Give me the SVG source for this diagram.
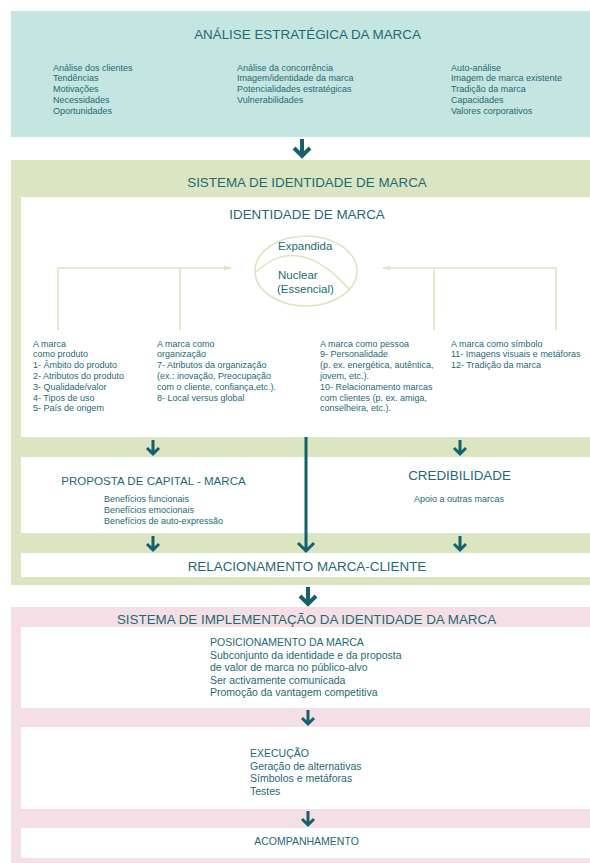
<svg xmlns="http://www.w3.org/2000/svg" width="590" height="863" viewBox="0 0 590 863">
<style>
text{font-family:"Liberation Sans",Arial,sans-serif;fill:#1e6a73}
.h{font-size:13.4px}
.s{font-size:9px}
.m{font-size:10.5px}
.e{font-size:11.5px}
.c{text-anchor:middle}
.lc{fill:none;stroke:#dbe5c2;stroke-width:1.6}
.ar{fill:none;stroke:#14606b;stroke-width:3}
.arb{fill:none;stroke:#14606b;stroke-width:4}
</style>
<defs>
<marker id="lg" viewBox="0 0 10 10" refX="9" refY="5" markerWidth="8" markerHeight="8" orient="auto" markerUnits="userSpaceOnUse">
<path d="M0,2 L10,5 L0,8 z" fill="#dbe5c2"/>
</marker>
</defs>
<rect width="590" height="863" fill="#ffffff"/>

<g id="analise">
<rect x="11" y="11" width="579" height="126" fill="#c5e5e0"/>
<text class="h c" x="307.5" y="38.5">ANÁLISE ESTRATÉGICA DA MARCA</text>
<text class="s" x="53" y="70.6">Análise dos clientes</text>
<text class="s" x="53" y="81.4">Tendências</text>
<text class="s" x="53" y="92.2">Motivações</text>
<text class="s" x="53" y="103">Necessidades</text>
<text class="s" x="53" y="113.8">Oportunidades</text>
<text class="s" x="237" y="70.6">Análise da concorrência</text>
<text class="s" x="237" y="81.4">Imagem/identidade da marca</text>
<text class="s" x="237" y="92.2">Potencialidades estratégicas</text>
<text class="s" x="237" y="103">Vulnerabilidades</text>
<text class="s" x="451" y="70.6">Auto-análise</text>
<text class="s" x="451" y="81.4">Imagem de marca existente</text>
<text class="s" x="451" y="92.2">Tradição da marca</text>
<text class="s" x="451" y="103">Capacidades</text>
<text class="s" x="451" y="113.8">Valores corporativos</text>
</g>

<g id="sistema-identidade">
<rect x="11" y="160" width="579" height="425" fill="#dbe5c2"/>
<rect x="21" y="197" width="569" height="240" fill="#ffffff"/>
<rect x="21" y="457" width="569" height="76" fill="#ffffff"/>
<rect x="21" y="553" width="569" height="24" fill="#ffffff"/>
<text class="h c" x="307" y="186.5">SISTEMA DE IDENTIDADE DE MARCA</text>
</g>

<g id="identidade">
<text class="h c" x="307" y="218.8">IDENTIDADE DE MARCA</text>
<ellipse cx="306" cy="271" rx="51" ry="35" fill="none" stroke="#dbe5c2" stroke-width="1.6"/>
<path d="M256,272 Q298,232 349,289" fill="none" stroke="#dbe5c2" stroke-width="1.6"/>
<text class="e" x="278" y="250">Expandida</text>
<text class="e" x="278" y="279">Nuclear</text>
<text class="e" x="277" y="293">(Essencial)</text>
</g>

<g id="produto">
<text class="s" x="33" y="346.5">A marca</text>
<text class="s" x="33" y="357.3">como produto</text>
<text class="s" x="33" y="368.1">1- Âmbito do produto</text>
<text class="s" x="33" y="378.9">2- Atributos do produto</text>
<text class="s" x="33" y="389.7">3- Qualidade/valor</text>
<text class="s" x="33" y="400.5">4- Tipos de uso</text>
<text class="s" x="33" y="411.3">5- País de origem</text>
</g>
<g id="organizacao">
<text class="s" x="157" y="346.5">A marca como</text>
<text class="s" x="157" y="357.3">organização</text>
<text class="s" x="157" y="368.1">7- Atributos da organização</text>
<text class="s" x="157" y="378.9">(ex.: inovação, Preocupação</text>
<text class="s" x="157" y="389.7">com o cliente, confiança,etc.).</text>
<text class="s" x="157" y="400.5">8- Local versus global</text>
</g>
<g id="pessoa">
<text class="s" x="320" y="346.5">A marca como pessoa</text>
<text class="s" x="320" y="357.3">9- Personalidade</text>
<text class="s" x="320" y="368.1">(p. ex. energética, autêntica,</text>
<text class="s" x="320" y="378.9">jovem, etc.).</text>
<text class="s" x="320" y="389.7">10- Relacionamento marcas</text>
<text class="s" x="320" y="400.5">com clientes (p. ex. amiga,</text>
<text class="s" x="320" y="411.3">conselheira, etc.).</text>
</g>
<g id="simbolo">
<text class="s" x="451" y="346.5">A marca como símbolo</text>
<text class="s" x="451" y="357.3">11- Imagens visuais e metáforas</text>
<text class="s" x="451" y="368.1">12- Tradição da marca</text>
</g>

<g id="proposta">
<text class="c" x="153.5" y="484.8" style="font-size:11.6px">PROPOSTA DE CAPITAL - MARCA</text>
<text class="s" x="104" y="502">Benefícios funcionais</text>
<text class="s" x="104" y="512.8">Benefícios emocionais</text>
<text class="s" x="104" y="523.6">Benefícios de auto-expressão</text>
</g>
<g id="credibilidade">
<text class="h c" x="459.5" y="479.8">CREDIBILIDADE</text>
<text class="s c" x="459" y="502">Apoio a outras marcas</text>
</g>
<g id="relacionamento">
<text class="h c" x="307" y="570.5">RELACIONAMENTO MARCA-CLIENTE</text>
</g>

<g id="sistema-implementacao">
<rect x="11" y="607" width="579" height="256" fill="#f4dfe6"/>
<rect x="21" y="627" width="569" height="81" fill="#ffffff"/>
<rect x="21" y="727" width="569" height="82" fill="#ffffff"/>
<rect x="21" y="828" width="569" height="30" fill="#ffffff"/>
<text class="h c" x="306.5" y="624">SISTEMA DE IMPLEMENTAÇÃO DA IDENTIDADE DA MARCA</text>
</g>
<g id="posicionamento">
<text class="m" x="210" y="646">POSICIONAMENTO DA MARCA</text>
<text class="m" x="210" y="658.5">Subconjunto da identidade e da proposta</text>
<text class="m" x="210" y="671">de valor de marca no público-alvo</text>
<text class="m" x="210" y="683.5">Ser activamente comunicada</text>
<text class="m" x="210" y="696">Promoção da vantagem competitiva</text>
</g>
<g id="execucao">
<text class="m" x="250" y="757">EXECUÇÃO</text>
<text class="m" x="250" y="769.6">Geração de alternativas</text>
<text class="m" x="250" y="782.2">Símbolos e metáforas</text>
<text class="m" x="250" y="794.8">Testes</text>
</g>
<g id="acompanhamento">
<text class="m c" x="306.5" y="844.5">ACOMPANHAMENTO</text>
</g>

<g id="connectors">
<path class="lc" d="M58,330 V268 H231" marker-end="url(#lg)"/>
<path class="lc" d="M180,330 V268"/>
<path class="lc" d="M556,330 V268 H383" marker-end="url(#lg)"/>
<path class="lc" d="M434,330 V268"/>
<path class="arb" d="M302,139 V156 M294,148 L302,156 L310,148"/>
<path class="ar" d="M153,440 V454 M147,448 L153,454 L159,448"/>
<path class="ar" d="M460,440 V454 M454,448 L460,454 L466,448"/>
<path class="ar" d="M153,536 V550 M147,544 L153,550 L159,544"/>
<path class="ar" d="M460,536 V550 M454,544 L460,550 L466,544"/>
<path class="ar" d="M306,437 V551 M298,543 L306,551 L314,543"/>
<path class="arb" d="M308,587 V604 M300,596 L308,604 L316,596"/>
<path class="ar" d="M308,710 V724 M302,718 L308,724 L314,718"/>
<path class="ar" d="M308,811 V825 M302,819 L308,825 L314,819"/>
</g>
</svg>
